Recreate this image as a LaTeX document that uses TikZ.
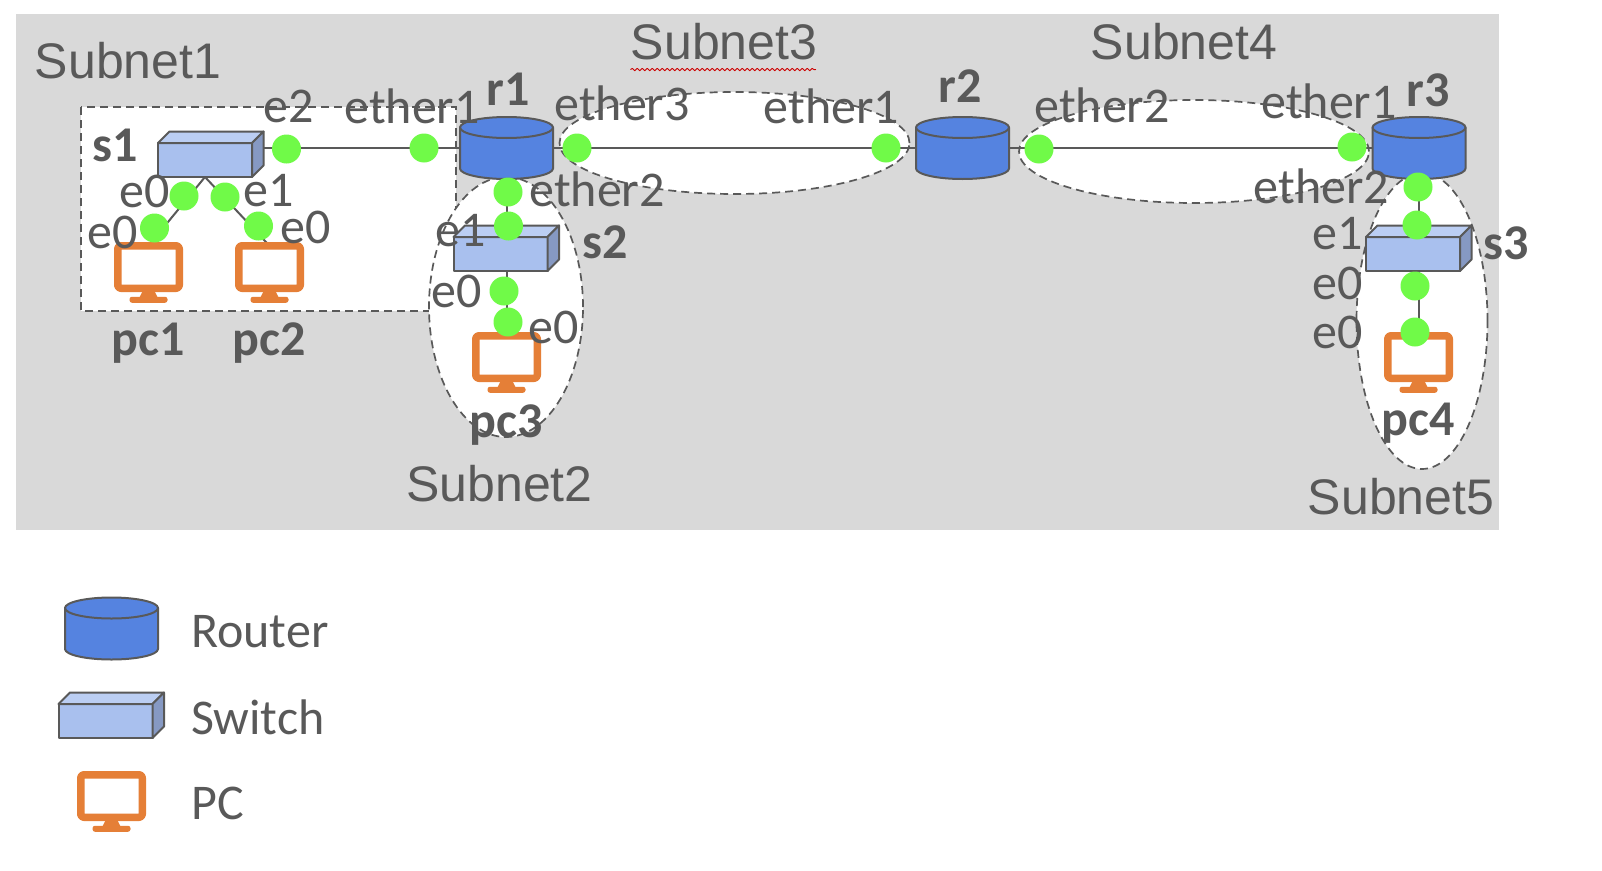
\documentclass[tikz,border=0pt]{standalone}
\usepackage{fontspec}
\setmainfont{Carlito}
\newfontfamily\arialfont{Liberation Sans}
\usetikzlibrary{shapes.geometric,decorations.pathmorphing}

\definecolor{inkgray}{HTML}{595959}
\definecolor{bandgray}{HTML}{D9D9D9}
\definecolor{routerblue}{HTML}{5583E0}
\definecolor{switchfront}{HTML}{A9C0EE}
\definecolor{switchtop}{HTML}{BBCEF3}
\definecolor{switchside}{HTML}{8699C3}
\definecolor{pcorange}{HTML}{E57F37}
\definecolor{portgreen}{HTML}{70FA48}

\pgfdeclarelayer{back}
\pgfdeclarelayer{wires}
\pgfsetlayers{back,wires,main}

\tikzset{
  wire/.style={draw=inkgray, line width=2pt},
  netarea/.style={draw=inkgray, fill=white, line width=1.7pt, dash pattern=on 8pt off 5pt},
  router/.style={rectangle, minimum width=93pt, minimum height=62pt, inner sep=0pt, outer sep=0pt},
  routerbody/.style={draw=inkgray, fill=routerblue, line width=2pt},
  switchbox/.style={draw=inkgray, fill=switchfront, line width=2pt,
    minimum width=94pt, minimum height=34pt, inner sep=0pt, outer sep=0pt},
  pcbox/.style={draw=pcorange, fill=white, line width=7.5pt, rounded corners=3pt,
    minimum width=61.5pt, minimum height=42.5pt, inner sep=0pt, outer sep=0pt},
  port/.style={circle, fill=portgreen, minimum size=29pt, inner sep=0pt},
  lbl/.style={text=inkgray, inner sep=0pt, font=\fontsize{50}{50}\selectfont},
  devlbl/.style={lbl, font=\fontsize{50}{50}\selectfont\bfseries},
  netlbl/.style={lbl, font=\fontsize{50}{50}\selectfont\arialfont},
}

% drum of a router
\newcommand{\routerdrum}[1]{
  \draw[routerbody] (#1.north west) ++(0,10.5) -- ++(0,41)
    arc[start angle=180, end angle=360, x radius=46.5pt, y radius=10.5pt] -- ++(0,-41)
    arc[start angle=0, end angle=180, x radius=46.5pt, y radius=10.5pt] -- cycle;
  \draw[routerbody, fill=none] (#1.north west) ++(0,10.5)
    arc[start angle=180, end angle=360, x radius=46.5pt, y radius=10.5pt];
}
% lid and flank of a switch
\newcommand{\switchcap}[1]{
  \draw[draw=inkgray, fill=switchtop, line width=2pt] (#1.north west) -- ++(11.5,-11.5) -- ++(94,0) -- ++(-11.5,11.5) -- cycle;
  \draw[draw=inkgray, fill=switchside, line width=2pt] (#1.north east) -- ++(11.5,-11.5) -- ++(0,34) -- ++(-11.5,11.5) -- cycle;
}
% foot of a pc screen
\newcommand{\pcfoot}[1]{
  \fill[pcorange] ([shift={(-6,3)}]#1.south) -- ++(12,0) -- ++(3,6) -- ++(-18,0) -- cycle;
  \fill[pcorange, rounded corners=2.5pt] ([shift={(-19,8.5)}]#1.south) rectangle ++(38,6);
}

\begin{document}
\begin{tikzpicture}[x=1pt, y=-1pt, line cap=round, line join=round]
  \useasboundingbox (0,0) rectangle (1602,870);

  % fondo e sottoreti
  \begin{pgfonlayer}{back}
    \fill[bandgray] (16,14) rectangle (1499,530);
    \draw[netarea] (81,107) rectangle (456,311);
    \node[netarea, ellipse, minimum width=350pt, minimum height=102pt, inner sep=0pt] (net3) at (734.5,143) {};
    \node[netarea, ellipse, minimum width=350pt, minimum height=103pt, inner sep=0pt] (net4) at (1194,151.5) {};
    \node[netarea, ellipse, minimum width=154pt, minimum height=260pt, inner sep=0pt] (net2) at (506,307) {};
    \node[netarea, ellipse, minimum width=131pt, minimum height=296pt, inner sep=0pt] (net5) at (1422,321) {};
  \end{pgfonlayer}

  % router
  \node[router] (r1) at (506.5,148) {};
  \routerdrum{r1}
  \node[router] (r2) at (962.5,148) {};
  \routerdrum{r2}
  \node[router] (r3) at (1419,148) {};
  \routerdrum{r3}

  % switch
  \node[switchbox] (s1) at (205,160) {};
  \switchcap{s1}
  \node[switchbox] (s2) at (500.5,254) {};
  \switchcap{s2}
  \node[switchbox] (s3) at (1413,254) {};
  \switchcap{s3}

  % pc
  \node[pcbox] (pc1) at (148.5,267) {};
  \pcfoot{pc1}
  \node[pcbox] (pc2) at (269.5,267) {};
  \pcfoot{pc2}
  \node[pcbox] (pc3) at (506.5,357) {};
  \pcfoot{pc3}
  \node[pcbox] (pc4) at (1418.5,357) {};
  \pcfoot{pc4}

  % collegamenti
  \begin{pgfonlayer}{wires}
    \draw[wire] (s1 |- r1) -- (r1);
    \draw[wire] (r1) -- (r2);
    \draw[wire] (r2) -- (r3);
    \draw[wire] (s1.south) -- (pc1.north);
    \draw[wire] (s1.south) -- (pc2.north);
    \draw[wire] (r1) -- (r1 |- s2);
    \draw[wire] (pc3 |- s2) -- (pc3);
    \draw[wire] (r3) -- (r3 |- s3);
    \draw[wire] (pc4 |- s3) -- (pc4);
  \end{pgfonlayer}

  % porte
  \node[port] (s1e2) at (286.5,149) {};
  \node[port] (r1e1) at (424,148) {};
  \node[port] (r1e3) at (577,148) {};
  \node[port] (r2e1) at (886,148) {};
  \node[port] (r2e2) at (1039,149) {};
  \node[port] (r3e1) at (1352,147) {};
  \node[port] (s1e0) at (184,196) {};
  \node[port] (s1e1) at (225,197) {};
  \node[port] (pc1e0) at (154.5,228) {};
  \node[port] (pc2e0) at (258.5,226) {};
  \node[port] (r1e2) at (508,192) {};
  \node[port] (s2e1) at (508.5,226) {};
  \node[port] (s2e0) at (504,291) {};
  \node[port] (pc3e0) at (508,322) {};
  \node[port] (r3e2) at (1418,187) {};
  \node[port] (s3e1) at (1417,225) {};
  \node[port] (s3e0) at (1415,286) {};
  \node[port] (pc4e0) at (1415,332) {};

  % etichette
  \node[netlbl] (sub1) at (128,61) {Subnet1};
  \node[netlbl] (sub2) at (499.5,484) {Subnet2};
  \node[netlbl] (sub3) at (724,42) {Subnet3};
  \node[netlbl] (sub4) at (1184,42) {Subnet4};
  \node[netlbl] (sub5) at (1401,497) {Subnet5};
  \draw[red!80!black, line width=0.9pt, decorate, decoration={snake, amplitude=1.2pt, segment length=5pt}] (sub3.south west) ++(0,9) -- ++(185,0);

  \node[devlbl] (r1txt) at (508,89) {r1};
  \node[devlbl] (r2txt) at (960,86) {r2};
  \node[devlbl] (r3txt) at (1428,90) {r3};
  \node[devlbl] (s1txt) at (115,145) {s1};
  \node[devlbl] (s2txt) at (605,242) {s2};
  \node[devlbl] (s3txt) at (1506,243) {s3};
  \node[devlbl] (pc1txt) at (148.5,343) {pc1};
  \node[devlbl] (pc2txt) at (269,343) {pc2};
  \node[devlbl] (pc3txt) at (506.5,425) {pc3};
  \node[devlbl] (pc4txt) at (1418.5,423) {pc4};

  \node[lbl] (s1e2txt) at (288.5,106) {e2};
  \node[lbl] (r1e1txt) at (412,106) {ether1};
  \node[lbl] (r1e3txt) at (622,103) {ether3};
  \node[lbl] (r1e2txt) at (597,189) {ether2};
  \node[lbl] (r2e1txt) at (831.5,106) {ether1};
  \node[lbl] (r2e2txt) at (1102,105) {ether2};
  \node[lbl] (r3e1txt) at (1329,101) {ether1};
  \node[lbl] (r3e2txt) at (1321.5,186) {ether2};
  \node[lbl] (s1e0txt) at (144.5,191.5) {e0};
  \node[lbl] (s1e1txt) at (268.5,191) {e1};
  \node[lbl] (pc1e0txt) at (113,232) {e0};
  \node[lbl] (pc2e0txt) at (306,227) {e0};
  \node[lbl] (s2e1txt) at (461,231) {e1};
  \node[lbl] (s2e0txt) at (456.5,291.5) {e0};
  \node[lbl] (pc3e0txt) at (554,327.5) {e0};
  \node[lbl] (s3e1txt) at (1338,233.5) {e1};
  \node[lbl] (s3e0txt) at (1338,283) {e0};
  \node[lbl] (pc4e0txt) at (1338,332) {e0};

  % legenda
  \node[router] (legrouter) at (111.5,628.5) {};
  \routerdrum{legrouter}
  \node[switchbox] (legswitch) at (105.5,721) {};
  \switchcap{legswitch}
  \node[pcbox] (legpc) at (111.5,796) {};
  \pcfoot{legpc}
  \node[lbl, anchor=west] (legroutertxt) at (191,632) {Router};
  \node[lbl, anchor=west] (legswitchtxt) at (191,717) {Switch};
  \node[lbl, anchor=west] (legpctxt) at (191,803) {PC};
\end{tikzpicture}
\end{document}
